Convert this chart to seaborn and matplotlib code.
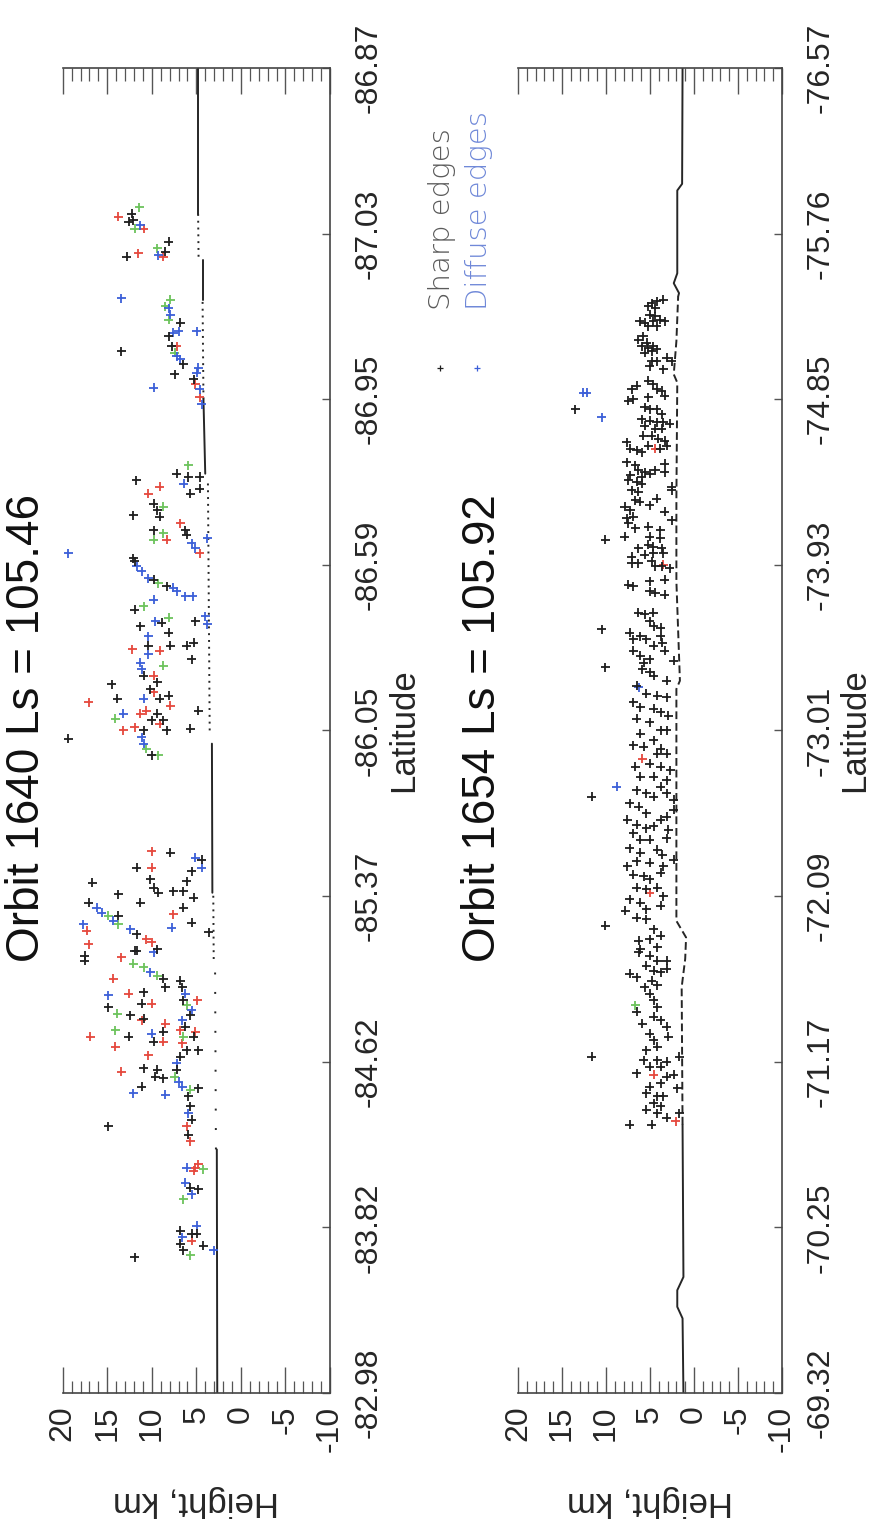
import matplotlib
matplotlib.use("Agg")
import matplotlib.pyplot as plt
from matplotlib.lines import Line2D
from matplotlib.ticker import MultipleLocator
import numpy as np
import pandas as pd
import seaborn as sns

# ---------------------------------------------------------------
# Along-track position (0..8) of each labelled latitude tick
# ---------------------------------------------------------------
TRACK_TICKS = list(range(9))
LAT_1640 = ["-82.98", "-83.82", "-84.62", "-85.37", "-86.05",
            "-86.59", "-86.95", "-87.03", "-86.87"]
LAT_1654 = ["-69.32", "-70.25", "-71.17", "-72.09", "-73.01",
            "-73.93", "-74.85", "-75.76", "-76.57"]
HEIGHT_TICKS = [20, 15, 10, 5, 0, -5, -10]

TITLE_1640 = "Orbit 1640 Ls = 105.46"
TITLE_1654 = "Orbit 1654 Ls = 105.92"

# ---------------------------------------------------------------
# Orbit 1640 cloud returns: (track position, height km)
# ---------------------------------------------------------------
o1640_black = [
    (7.12, 12.25), (7.08, 12.06), (7.07, 12.6), (6.86, 12.8), (6.95, 8.1), (6.89, 8.5),
    (6.29, 13.45), (6.46, 6.8), (6.38, 8.1), (6.32, 7.75), (6.21, 6.45), (6.15, 7.4),
    (6.12, 5.3), (5.55, 7.2), (5.53, 5.9), (5.53, 4.6), (5.51, 11.76), (5.46, 4.6),
    (5.43, 5.7), (5.37, 9.8), (5.33, 9.4), (5.29, 9.1), (5.30, 12.06), (5.21, 9.8),
    (5.21, 6.25), (5.18, 6.1), (5.04, 12.06), (4.91, 9.8), (4.87, 8.3), (5.02, 11.9),
    (4.73, 11.9), (4.65, 8.9), (4.63, 11.3), (4.59, 8.1), (4.66, 5.1), (4.51, 10.4),
    (4.51, 7.9), (4.51, 6.1), (4.53, 5.3), (4.43, 5.5), (4.33, 10.9), (4.29, 9.4),
    (4.25, 10.2), (4.19, 9.1), (4.21, 8.1), (4.10, 9.4), (4.06, 10.0), (4.06, 8.7),
    (4.00, 8.3), (4.28, 14.5), (4.19, 13.9), (4.00, 10.9), (3.85, 10.0), (4.12, 4.76),
    (4.01, 5.7), (3.95, 19.4), (3.26, 7.9), (3.22, 4.4), (3.17, 11.7), (3.10, 10.2),
    (3.05, 9.8), (3.02, 9.25), (3.15, 5.5), (3.09, 6.1), (3.03, 7.57), (3.03, 6.45),
    (2.99, 5.3), (2.93, 6.45), (2.84, 5.5), (2.78, 3.6), (3.08, 16.7), (3.01, 13.75),
    (2.96, 11.3), (2.96, 17.1), (2.88, 13.75), (2.77, 11.7), (2.68, 9.4), (2.67, 11.7),
    (2.64, 17.5), (2.67, 11.9), (2.61, 17.5), (2.50, 8.7), (2.45, 8.5), (2.49, 6.8),
    (2.45, 6.6), (2.37, 6.45), (2.28, 5.7), (2.21, 6.25), (2.15, 5.3), (2.07, 6.1),
    (2.07, 4.76), (2.03, 6.8), (1.95, 7.2), (1.84, 4.76), (1.79, 5.9), (1.73, 5.7),
    (1.65, 5.5), (1.56, 5.9), (2.42, 10.9), (2.33, 14.9), (2.35, 11.1), (2.28, 12.4),
    (2.26, 10.9), (2.18, 8.7), (2.15, 12.6), (2.12, 9.8), (1.96, 10.9), (1.95, 9.4),
    (1.91, 9.6), (1.90, 8.7), (1.85, 11.1), (1.61, 14.9), (1.24, 5.7), (1.23, 4.76),
    (0.98, 6.8), (0.96, 5.5), (0.96, 4.94), (0.90, 6.8), (0.89, 4.2), (0.86, 6.45),
    (0.82, 11.9),
]
o1640_red = [
    (7.10, 13.75), (7.03, 10.9), (6.88, 11.5), (6.86, 8.7), (6.32, 7.2), (6.09, 5.1),
    (6.01, 4.6), (5.47, 9.1), (5.43, 10.4), (5.15, 8.3), (5.25, 6.8), (5.07, 4.6),
    (4.49, 12.2), (4.48, 9.1), (4.33, 9.8), (4.23, 9.8), (4.15, 7.9), (4.10, 11.3),
    (4.12, 10.6), (4.04, 9.1), (4.17, 17.1), (4.00, 13.2), (4.02, 11.9), (3.27, 10.0),
    (3.17, 10.0), (2.89, 7.57), (2.74, 10.6), (2.72, 10.0), (2.79, 17.3), (2.71, 17.1),
    (2.63, 13.4), (2.19, 6.8), (2.11, 6.6), (1.61, 6.1), (1.52, 5.7), (2.37, 4.9),
    (2.18, 5.1), (2.50, 14.3), (2.41, 12.6), (2.35, 10.0), (2.25, 11.1), (2.23, 8.5),
    (2.12, 8.7), (2.15, 16.9), (2.09, 14.1), (2.04, 10.4), (1.94, 13.4), (1.36, 5.1),
    (1.38, 4.76), (1.34, 5.3), (0.92, 5.5),
]
o1640_green = [
    (7.03, 11.9), (7.16, 11.4), (6.91, 9.4), (6.60, 7.94), (6.56, 8.5), (6.48, 8.1),
    (6.28, 7.4), (5.60, 5.9), (5.35, 8.7), (5.19, 8.7), (5.15, 9.8), (4.89, 9.25),
    (4.75, 10.9), (4.68, 8.1), (4.39, 8.7), (4.07, 14.1), (3.89, 10.6), (3.85, 9.25),
    (2.88, 14.9), (2.83, 13.75), (2.59, 12.06), (2.57, 10.9), (2.52, 9.4), (2.34, 6.1),
    (2.15, 6.45), (1.91, 7.4), (1.83, 5.7), (2.29, 13.9), (2.19, 14.1), (1.35, 4.2),
    (1.17, 6.45), (0.83, 5.7),
]
o1640_blue = [
    (7.05, 11.3), (6.87, 9.25), (6.61, 13.45), (6.55, 8.1), (6.51, 7.9), (6.41, 7.0),
    (6.40, 7.57), (6.41, 4.94), (6.26, 7.2), (6.24, 6.8), (6.07, 9.8), (6.19, 4.76),
    (6.16, 4.94), (6.06, 4.6), (5.97, 4.4), (5.49, 6.4), (5.13, 5.5), (5.10, 5.1),
    (5.16, 3.8), (5.07, 19.4), (4.99, 11.7), (4.96, 11.1), (4.92, 10.4), (4.86, 7.57),
    (4.84, 7.2), (4.81, 6.25), (4.81, 5.4), (4.79, 9.8), (4.66, 9.6), (4.57, 10.4),
    (4.69, 4.0), (4.64, 3.8), (4.46, 10.4), (4.41, 11.3), (4.37, 11.1), (4.19, 10.9),
    (4.10, 13.2), (3.96, 11.1), (3.92, 10.9), (3.23, 5.1), (3.17, 4.4), (2.81, 7.75),
    (2.93, 16.2), (2.90, 15.6), (2.85, 14.3), (2.80, 12.4), (2.83, 17.7), (2.66, 9.8),
    (2.54, 10.2), (2.41, 6.25), (2.31, 5.5), (2.25, 6.6), (1.99, 7.2), (1.88, 7.0),
    (1.85, 6.6), (1.69, 5.9), (2.40, 14.9), (2.17, 10.0), (1.81, 12.06), (1.80, 8.5),
    (1.36, 6.1), (1.27, 6.25), (1.20, 5.5), (1.01, 4.94), (0.94, 6.6), (0.86, 3.07),
]

# ---------------------------------------------------------------
# Orbit 1654 cloud returns: (track position, height km)
# ---------------------------------------------------------------
o1654_black = [
    (5.94, 13.5), (5.15, 10.1),
    (6.58, 4.81), (6.59, 4.24), (6.60, 3.49), (6.56, 5.19), (6.55, 4.43), (6.47, 6.14),
    (6.51, 5.0), (6.50, 4.43), (6.46, 5.57), (6.47, 4.62), (6.48, 3.86), (6.47, 3.30),
    (6.44, 5.19), (6.44, 4.24), (6.36, 6.33), (6.38, 5.76), (6.34, 5.38), (6.32, 5.95),
    (6.31, 5.19), (6.32, 4.62), (6.30, 4.24), (6.28, 5.57), (6.29, 4.81), (6.23, 4.81),
    (6.23, 4.24), (6.20, 5.0), (6.18, 3.49), (6.23, 2.54), (6.25, 3.11), (6.08, 6.52),
    (6.06, 7.08), (6.11, 5.19), (6.09, 4.62), (6.06, 4.24), (6.05, 3.67), (6.02, 3.30),
    (5.99, 7.46), (6.00, 6.89), (6.01, 5.19), (5.95, 5.57), (5.94, 5.0), (5.94, 4.24),
    (5.91, 3.67), (5.88, 5.95), (5.87, 5.0), (5.86, 4.24), (5.86, 3.49), (5.85, 2.73),
    (5.84, 5.57), (5.82, 4.43), (5.82, 3.67), (5.78, 5.76), (5.78, 4.81), (5.76, 4.05),
    (5.75, 3.30), (5.74, 7.65), (5.70, 7.27), (5.69, 6.52), (5.68, 5.95), (5.72, 5.19),
    (5.70, 3.86), (5.72, 3.11), (5.62, 7.65), (5.60, 6.7), (5.57, 6.33), (5.56, 5.57),
    (5.57, 4.43), (5.61, 3.30), (5.54, 7.27), (5.53, 5.95), (5.55, 5.0), (5.56, 3.30),
    (5.51, 7.46), (5.50, 6.52), (5.49, 5.95), (5.45, 7.08), (5.44, 6.33), (5.39, 6.7),
    (5.38, 6.14), (5.40, 4.24), (5.47, 2.54), (5.45, 2.54), (5.36, 5.0), (5.35, 7.84),
    (5.33, 7.27), (5.28, 7.65), (5.29, 6.89), (5.25, 7.46), (5.32, 3.30), (5.27, 2.54),
    (5.23, 5.19), (5.22, 6.7), (5.21, 3.86), (5.17, 7.84), (5.17, 5.0), (5.16, 3.86),
    (5.10, 6.33), (5.12, 5.19), (5.11, 4.62), (5.10, 3.67), (5.05, 7.08), (5.06, 5.57),
    (5.07, 4.62), (5.07, 3.49), (5.01, 7.08), (5.01, 6.33), (5.02, 4.81), (4.99, 4.43),
    (4.99, 3.67), (4.98, 2.73), (4.88, 7.46), (4.87, 6.89), (4.90, 5.0), (4.91, 3.30),
    (4.84, 5.0), (4.83, 4.43), (4.82, 3.30), (4.71, 6.33), (4.70, 5.57), (4.71, 4.62),
    (4.66, 5.0), (4.63, 4.6), (4.62, 3.8), (4.59, 7.3),
    (4.55, 6.9), (4.57, 6.1), (4.55, 5.4), (4.57, 3.8), (4.51, 4.6), (4.53, 3.6),
    (4.48, 3.3), (4.48, 6.9), (4.45, 6.1), (4.42, 2.3), (4.43, 5.0), (4.41, 5.7),
    (4.61, 10.5), (4.38, 10.1),
    (4.37, 5.9), (4.35, 5.0), (4.33, 4.6), (4.30, 3.1), (4.27, 6.5), (4.22, 5.4),
    (4.21, 4.2), (4.20, 3.1), (4.17, 6.9), (4.14, 6.1), (4.13, 4.6), (4.11, 3.8),
    (4.09, 2.9), (4.07, 6.5), (4.05, 5.0), (4.00, 3.8), (4.00, 3.1), (3.98, 6.1),
    (3.91, 6.9), (3.90, 5.7), (3.94, 4.6), (3.89, 3.8), (3.86, 4.2), (3.86, 3.1),
    (3.80, 5.0), (3.78, 3.8), (3.76, 2.7), (3.78, 6.7), (3.72, 6.1), (3.72, 4.6),
    (3.70, 3.1), (3.66, 3.8), (3.64, 6.5), (3.62, 5.4), (3.60, 4.6), (3.62, 3.1),
    (3.58, 2.3), (3.60, 11.6),
    (3.56, 7.3), (3.54, 6.3), (3.50, 5.4), (3.52, 2.3), (3.48, 3.1), (3.46, 7.6),
    (3.43, 6.5), (3.41, 5.4), (3.42, 4.6), (3.46, 3.8), (3.40, 2.9), (3.38, 6.9),
    (3.34, 6.1), (3.34, 5.0), (3.35, 3.1), (3.29, 7.3), (3.26, 6.1), (3.28, 4.2),
    (3.25, 3.6), (3.22, 2.3), (3.21, 6.5), (3.20, 5.0), (3.18, 3.5), (3.18, 7.6),
    (3.13, 6.9), (3.12, 5.7), (3.10, 5.0), (3.14, 3.8), (3.05, 6.5), (3.04, 5.4),
    (3.05, 4.2), (3.00, 3.5), (2.98, 7.3), (2.96, 6.1), (2.92, 5.4), (2.94, 3.8),
    (2.91, 7.8), (2.87, 6.5), (2.86, 5.4), (2.80, 4.6), (2.76, 3.8), (2.74, 5.0),
    (2.73, 6.3), (2.69, 4.2), (2.68, 6.1), (2.82, 10.1),
    (2.66, 6.3), (2.64, 5.0), (2.61, 4.2), (2.61, 3.1), (2.58, 5.4), (2.55, 4.6),
    (2.54, 3.8), (2.56, 3.1), (2.53, 7.3), (2.51, 6.5), (2.49, 4.8), (2.45, 5.6),
    (2.46, 4.2), (2.41, 5.0), (2.37, 4.6), (2.33, 4.2), (2.30, 6.5), (2.23, 5.9),
    (2.27, 4.6), (2.25, 3.8), (2.21, 3.1), (2.15, 2.9), (2.17, 5.0), (2.13, 4.6),
    (2.09, 4.2), (2.07, 5.4), (2.01, 5.7), (2.01, 4.2), (2.00, 3.1), (1.97, 5.0),
    (1.97, 3.8), (2.03, 1.7), (1.93, 6.5), (1.91, 3.1), (1.92, 2.3), (2.03, 11.6),
    (1.87, 3.8), (1.85, 5.0), (1.81, 5.4), (1.79, 4.2), (1.79, 3.5), (1.84, 1.9),
    (1.75, 4.6), (1.73, 3.8), (1.71, 5.4), (1.66, 3.1), (1.69, 1.7), (1.62, 7.3),
    (1.62, 4.8), (1.69, 4.2),
]
o1654_red = [(5.70, 4.4), (5.00, 3.5), (3.02, 5.0), (1.92, 4.6), (1.64, 2.1), (3.83, 5.9)]
o1654_green = [(2.34, 6.7)]
o1654_blue = [(6.04, 12.6), (6.04, 12.2), (5.89, 10.5), (4.26, 6.3), (3.66, 8.8)]

# ---------------------------------------------------------------
# Surface height along the track: segments of (track position, height km)
# ---------------------------------------------------------------
surf1640 = [
    ("solid",  [(8.00, 4.80), (7.12, 4.80)]),
    ("dotted", [(7.12, 4.80), (6.86, 4.75)]),
    ("solid",  [(6.84, 4.30), (6.60, 4.30)]),
    ("dotted", [(6.60, 4.30), (6.00, 4.20)]),
    ("solid",  [(6.00, 4.20), (5.55, 4.00)]),
    ("dotted", [(5.52, 3.70), (4.00, 3.50)]),
    ("solid",  [(3.92, 3.25), (3.02, 3.20)]),
    ("dotted", [(3.02, 3.10), (2.62, 3.05)]),
    ("sparse", [(2.62, 2.90), (1.47, 2.80)]),
    ("solid",  [(1.47, 2.70), (0.00, 2.65)]),
]
surf1654 = [
    ("solid",  [(8.00, 1.30), (7.30, 1.35), (7.26, 1.90), (6.76, 1.90),
                (6.70, 2.30), (6.64, 1.70), (6.62, 1.80)]),
    ("dashed", [(6.62, 1.80), (6.35, 2.00), (6.15, 2.30), (6.10, 1.90),
                (5.40, 2.00), (4.90, 2.00), (4.30, 1.60), (4.25, 2.00),
                (3.50, 2.00), (2.85, 2.00), (2.75, 0.90), (2.62, 1.00),
                (2.45, 1.40), (1.62, 1.30)]),
    ("solid",  [(1.62, 1.30), (0.70, 1.20), (0.62, 1.90), (0.52, 1.90),
                (0.45, 1.30), (0.00, 1.20)]),
]

PALETTE = {"black": "#1e1e1e", "red": "#e5483d", "green": "#6cc35c", "blue": "#3b5fd8"}
DASHES = {"solid": "", "dotted": (1, 2.5), "sparse": (1, 9), "dashed": (4, 2)}


def returns_frame(groups):
    rows = []
    for name, pts in groups:
        for pos, hgt in pts:
            rows.append({"pos": pos, "height": hgt, "group": name})
    return pd.DataFrame(rows)


def surface_frame(segments):
    rows = []
    for i, (kind, pts) in enumerate(segments):
        for pos, hgt in pts:
            rows.append({"pos": pos, "height": hgt, "seg": i, "kind": kind})
    return pd.DataFrame(rows)


sns.set_theme(style="white")
plt.rcParams["font.family"] = ["Liberation Sans", "DejaVu Sans"]
plt.rcParams["axes.unicode_minus"] = False

fig = plt.figure(figsize=(8.72, 15.19), dpi=100)
ax1 = fig.add_axes([0.0719, 0.0830, 0.3065, 0.8723])
ax2 = fig.add_axes([0.5940, 0.0830, 0.3028, 0.8723])


def draw_panel(ax, groups, surface, lat_labels, title):
    surf = surface_frame(surface)
    sns.lineplot(data=surf, x="height", y="pos", units="seg", estimator=None,
                 style="kind", dashes=DASHES, orient="y", sort=True,
                 color="#262626", linewidth=1.4, legend=False, ax=ax, zorder=2)
    pts = returns_frame(groups)
    sns.scatterplot(data=pts, x="height", y="pos", hue="group", palette=PALETTE,
                    marker="+", s=42, linewidth=1.3, legend=False, ax=ax, zorder=3)

    ax.set_xlim(20, -10)
    ax.set_ylim(0, 8)

    # height axis: ticks on both long edges, pointing inward
    ax.set_xticks(HEIGHT_TICKS)
    ax.set_xticklabels([str(v) for v in HEIGHT_TICKS])
    ax.xaxis.set_minor_locator(MultipleLocator(1))
    ax.tick_params(axis="x", which="major", direction="in", length=19, width=1.0,
                   color="#555555", top=True, bottom=True, labelbottom=True,
                   labeltop=False, labelrotation=90, pad=9, labelsize=23)
    ax.tick_params(axis="x", which="minor", direction="in", length=9, width=0.9,
                   color="#555555", top=True, bottom=True)

    # track axis labelled by latitude, on the right-hand edge
    ax.set_yticks(TRACK_TICKS)
    ax.set_yticklabels(lat_labels)
    ax.yaxis.tick_right()
    ax.tick_params(axis="y", which="major", direction="in", length=6, width=1.0,
                   color="#555555", left=False, right=True, labelleft=False,
                   labelright=True, labelrotation=90, pad=17, labelsize=23)
    for lbl in ax.get_yticklabels():
        lbl.set_va("center")

    for side in ("top", "bottom", "right"):
        ax.spines[side].set_color("#444444")
        ax.spines[side].set_linewidth(1.2)
    ax.spines["left"].set_visible(False)

    ax.set_xlabel("Height, km", rotation=180, fontsize=25)
    ax.xaxis.set_label_coords(0.5, -0.082)
    ax.xaxis.label.set_va("center")
    ax.set_ylabel("Latitude", rotation=90, fontsize=25)
    ax.yaxis.set_label_position("right")
    ax.yaxis.set_label_coords(1.275, 0.5)
    ax.yaxis.label.set_va("center")
    ax.yaxis.label.set_ha("center")

    ax.text(-0.134, 0.502, title, transform=ax.transAxes, rotation=90,
            ha="center", va="center", fontsize=33, color="#111111")


draw_panel(ax1,
           [("red", o1640_red), ("green", o1640_green),
            ("blue", o1640_blue), ("black", o1640_black)],
           surf1640, LAT_1640, TITLE_1640)
draw_panel(ax2,
           [("red", o1654_red), ("green", o1654_green),
            ("blue", o1654_blue), ("black", o1654_black)],
           surf1654, LAT_1654, TITLE_1654)

# legend between the two panels
legend_items = [("Sharp edges", PALETTE["black"], "#5a5a5a", 0.507),
                ("Diffuse edges", PALETTE["blue"], "#6f88d8", 0.549)]
for text, mcolor, tcolor, xf in legend_items:
    fig.add_artist(Line2D([xf - 0.002], [0.758], marker="+", markersize=4,
                          markeredgewidth=0.9, color=mcolor, linestyle="none",
                          transform=fig.transFigure))
    fig.text(xf, 0.796, text, rotation=90, ha="center", va="bottom",
             fontsize=21, color=tcolor, family=["DejaVu Sans"], fontweight="light")

fig.savefig("out.png", dpi=100, facecolor="white")
